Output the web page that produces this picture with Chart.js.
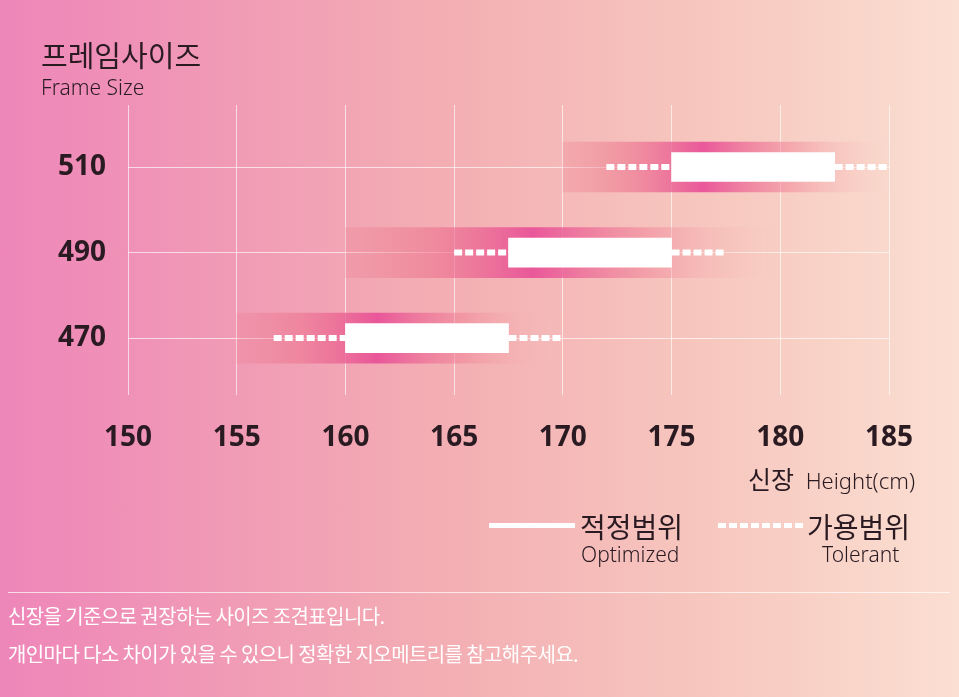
<!DOCTYPE html>
<html><head><meta charset="utf-8">
<script src="https://cdn.jsdelivr.net/npm/chart.js@4"></script>
<style>
html,body{margin:0;padding:0;}
body{width:959px;height:697px;overflow:hidden;position:relative;background:linear-gradient(90deg,#ee86b9 0%,#f3adb3 45%,#f7c8bf 75%,#fbdfd2 100%);font-family:"Noto Sans CJK KR","Noto Sans",sans-serif;color:#2a1a22;}
.t{position:absolute;white-space:nowrap;}
#c{position:absolute;left:0;top:0;}
</style></head><body>
<canvas id="c" width="959" height="697"></canvas>
<div class="t" style="left:41px;top:33px;font-size:29px;">프레임사이즈</div>
<div class="t" style="left:41px;top:73px;font-size:21px;font-family:'Noto Sans';font-weight:300;">Frame Size</div>
<div class="t" style="right:44px;top:460px;font-size:25px;">신장 <span style="font-family:'Noto Sans';font-size:22px;font-weight:300;margin-left:6px;">Height(cm)</span></div>
<div class="t" style="left:489px;top:523px;width:86px;height:5px;background:#fff;"></div>
<div class="t" style="left:580px;top:506px;font-size:28px;">적정범위</div>
<div class="t" style="left:581px;top:540px;font-size:21px;font-family:'Noto Sans';font-weight:300;">Optimized</div>
<div class="t" style="left:718px;top:523px;width:86px;height:5px;background:repeating-linear-gradient(90deg,#fff 0 8px,transparent 8px 11px);"></div>
<div class="t" style="left:807px;top:506px;font-size:28px;">가용범위</div>
<div class="t" style="left:822px;top:540px;font-size:21px;font-family:'Noto Sans';font-weight:300;">Tolerant</div>
<div class="t" style="left:8px;top:592px;width:942px;height:1px;background:rgba(255,255,255,0.7);"></div>
<div class="t" style="left:8px;top:601px;font-size:20px;color:#fff;letter-spacing:-0.6px;">신장을 기준으로 권장하는 사이즈 조견표입니다.</div>
<div class="t" style="left:8px;top:639px;font-size:20px;color:#fff;letter-spacing:-0.6px;">개인마다 다소 차이가 있을 수 있으니 정확한 지오메트리를 참고해주세요.</div>
<script>
const sizes = [510, 490, 470];
const xTicks = [150,155,160,165,170,175,180,185];
const glowRange = [[170,185],[160,180],[155,170]];
const optimalRange = [[175,182.5],[167.5,175],[160,167.5]];
const tolerantLow = [[172,175],[165,167.5],[156.7,160]];
const tolerantHigh = [[182.5,185],[175,177.5],[167.5,170]];

function segs(ranges){
  const pts=[];
  ranges.forEach((r,i)=>{pts.push({x:r[0],y:sizes[i]},{x:r[1],y:sizes[i]},{x:null,y:null});});
  return pts;
}
const tolPts = segs(tolerantLow).concat(segs(tolerantHigh));

new Chart(document.getElementById('c'),{
  data:{datasets:[
    {type:'bar',data:glowRange.map((r,i)=>({x:r,y:sizes[i]})),barThickness:50,order:3,grouped:false,
     backgroundColor:(ctx)=>{
       const ch=ctx.chart; if(!ch.chartArea) return 'rgba(0,0,0,0)';
       const r=glowRange[ctx.dataIndex]; if(!r) return 'rgba(0,0,0,0)';
       const xs=ch.scales.x; const a=xs.getPixelForValue(r[0]), b=xs.getPixelForValue(r[1]);
       const g=ch.ctx.createLinearGradient(a,0,b,0);
       g.addColorStop(0,'rgba(236,125,140,0.25)');
       g.addColorStop(0.2,'rgba(236,110,140,0.55)');
       g.addColorStop(0.43,'rgba(232,82,152,0.95)');
       g.addColorStop(0.7,'rgba(240,130,150,0.5)');
       g.addColorStop(1,'rgba(250,205,195,0)');
       return g;
     }},
    {type:'bar',data:optimalRange.map((r,i)=>({x:r,y:sizes[i]})),barThickness:29,backgroundColor:'#ffffff',order:1,grouped:false},
    {type:'line',data:tolPts,borderColor:'#ffffff',borderWidth:6,borderDash:[8,3],pointRadius:0,spanGaps:false,order:2,borderCapStyle:'butt'}
  ]},
  options:{
    indexAxis:'y',responsive:false,animation:false,
    layout:{padding:{left:0,top:105,right:70,bottom:242}},
    plugins:{legend:{display:false},tooltip:{enabled:false}},
    scales:{
      x:{type:'linear',min:150,max:185,offset:false,
        afterBuildTicks:(s)=>{s.ticks=xTicks.map(v=>({value:v}));},
        afterFit:(s)=>{s.height=60;},
        grid:{color:'rgba(255,255,255,0.65)',drawTicks:false,lineWidth:1,offset:false},border:{display:false},
        ticks:{padding:26,color:'#2a1a22',font:{family:'Noto Sans',weight:'bold',size:28}}},
      y:{type:'linear',min:456.7,max:524.5,offset:false,
        afterBuildTicks:(s)=>{s.ticks=sizes.map(v=>({value:v}));},
        afterFit:(s)=>{s.width=128;},
        grid:{color:'rgba(255,255,255,0.65)',drawTicks:false,lineWidth:1,offset:false},border:{display:false},
        ticks:{padding:22,color:'#2a1a22',font:{family:'Noto Sans',weight:'bold',size:28}}}
    }
  }
});
</script>
</body></html>
